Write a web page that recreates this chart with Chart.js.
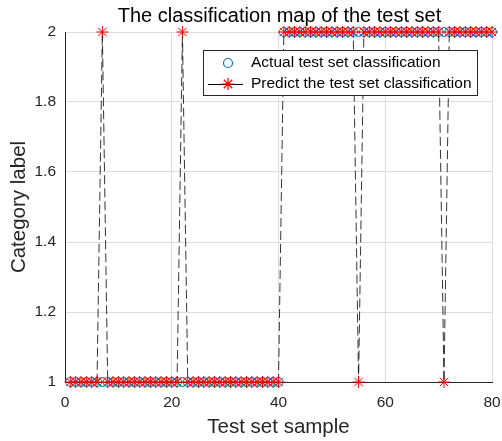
<!DOCTYPE html>
<html>
<head>
<meta charset="utf-8">
<script src="https://cdn.jsdelivr.net/npm/chart.js@4.4.1/dist/chart.umd.min.js"></script>
<style>
  html, body { margin: 0; padding: 0; background: #fff; }
  #wrap { width: 502px; height: 441px; position: relative; }
</style>
</head>
<body>
<div id="wrap"><canvas id="cls"></canvas></div>
<script>
// Test set samples 1..80
const samples = [
  1, 2, 3, 4, 5, 6, 7, 8, 9, 10, 11, 12, 13, 14, 15, 16, 17, 18, 19, 20,
  21, 22, 23, 24, 25, 26, 27, 28, 29, 30, 31, 32, 33, 34, 35, 36, 37, 38, 39, 40,
  41, 42, 43, 44, 45, 46, 47, 48, 49, 50, 51, 52, 53, 54, 55, 56, 57, 58, 59, 60,
  61, 62, 63, 64, 65, 66, 67, 68, 69, 70, 71, 72, 73, 74, 75, 76, 77, 78, 79, 80
];
const actualClass = [
  1, 1, 1, 1, 1, 1, 1, 1, 1, 1, 1, 1, 1, 1, 1, 1, 1, 1, 1, 1,
  1, 1, 1, 1, 1, 1, 1, 1, 1, 1, 1, 1, 1, 1, 1, 1, 1, 1, 1, 1,
  2, 2, 2, 2, 2, 2, 2, 2, 2, 2, 2, 2, 2, 2, 2, 2, 2, 2, 2, 2,
  2, 2, 2, 2, 2, 2, 2, 2, 2, 2, 2, 2, 2, 2, 2, 2, 2, 2, 2, 2
];
const predictClass = [
  1, 1, 1, 1, 1, 1, 2, 1, 1, 1, 1, 1, 1, 1, 1, 1, 1, 1, 1, 1,
  1, 2, 1, 1, 1, 1, 1, 1, 1, 1, 1, 1, 1, 1, 1, 1, 1, 1, 1, 1,
  2, 2, 2, 2, 2, 2, 2, 2, 2, 2, 2, 2, 2, 2, 1, 2, 2, 2, 2, 2,
  2, 2, 2, 2, 2, 2, 2, 2, 2, 2, 1, 2, 2, 2, 2, 2, 2, 2, 2, 2
];
const xTicks = [0, 20, 40, 60, 80];
const yTicks = [1, 1.2, 1.4, 1.6, 1.8, 2];

const FONT = '"Liberation Sans", Arial, Helvetica, sans-serif';
const TXT = '#262626';

const toPts = (xs, ys) => xs.map((x, i) => ({ x: x, y: ys[i] }));

// title + legend box drawn on top, MATLAB style
const overlay = {
  id: 'overlay',
  afterDraw(chart) {
    const ctx = chart.ctx;
    const a = chart.chartArea;
    ctx.save();
    ctx.fillStyle = '#000';
    ctx.font = '20px ' + FONT;
    ctx.textAlign = 'center';
    ctx.textBaseline = 'middle';
    ctx.fillText('The classification map of the test set', (a.left + a.right) / 2 + 1, 16);

    // legend
    const bx = 203.5, by = 50.5, bw = 274, bh = 45;
    ctx.fillStyle = '#fff';
    ctx.fillRect(bx, by, bw, bh);
    ctx.strokeStyle = '#262626';
    ctx.lineWidth = 1;
    ctx.strokeRect(bx, by, bw, bh);

    const y1 = 63, y2 = 84, mx = 228;
    ctx.strokeStyle = '#0072BD';
    ctx.lineWidth = 1.2;
    ctx.beginPath();
    ctx.arc(mx, y1, 4.5, 0, Math.PI * 2);
    ctx.stroke();

    ctx.strokeStyle = '#000';
    ctx.lineWidth = 1;
    ctx.beginPath();
    ctx.moveTo(208, y2 + 0.5);
    ctx.lineTo(243, y2 + 0.5);
    ctx.stroke();
    ctx.strokeStyle = '#ff0000';
    ctx.lineWidth = 1.2;
    Chart.helpers.drawPoint(ctx, { pointStyle: 'star', radius: 6, rotation: 0, borderWidth: 1.2 }, mx, y2);

    ctx.fillStyle = '#000';
    ctx.font = '15.5px ' + FONT;
    ctx.textAlign = 'left';
    ctx.fillText('Actual test set classification', 251, y1);
    ctx.fillText('Predict the test set classification', 251, y2);
    ctx.restore();
  }
};

new Chart(document.getElementById('cls'), {
  type: 'scatter',
  data: {
    datasets: [
      {
        label: 'Actual test set classification',
        data: toPts(samples, actualClass),
        showLine: false,
        pointStyle: 'circle',
        pointRadius: 4.5,
        pointBorderWidth: 1,
        pointBorderColor: '#0072BD',
        pointBackgroundColor: 'rgba(0,0,0,0)',
        clip: false,
        order: 2
      },
      {
        label: 'Predict the test set classification',
        data: toPts(samples, predictClass),
        showLine: true,
        borderColor: '#000',
        borderWidth: 0.8,
        borderDash: [9, 4],
        pointStyle: 'star',
        pointRadius: 6,
        pointBorderWidth: 1,
        pointBorderColor: '#ff0000',
        pointBackgroundColor: '#ff0000',
        clip: false,
        order: 1
      }
    ]
  },
  options: {
    responsive: true,
    maintainAspectRatio: false,
    animation: false,
    events: [],
    layout: { padding: { top: 32, right: 10, left: 0, bottom: 0 } },
    plugins: {
      legend: { display: false },
      tooltip: { enabled: false },
      title: { display: false }
    },
    scales: {
      x: {
        type: 'linear',
        min: 0, max: 80,
        afterBuildTicks: s => { s.ticks = xTicks.map(v => ({ value: v })); },
        afterFit: s => { s.height = 59; s.paddingLeft = 0; s.paddingRight = 0; },
        ticks: { color: TXT, font: { family: FONT, size: 15.5 }, padding: 11, maxRotation: 0 },
        grid: { color: '#dcdcdc', lineWidth: 1, tickLength: 0, drawTicks: false },
        border: { color: '#262626', width: 1 },
        title: { display: true, text: 'Test set sample', color: TXT, font: { family: FONT, size: 20.5 }, padding: { top: 0, bottom: 1 } }
      },
      y: {
        type: 'linear',
        min: 1, max: 2,
        afterBuildTicks: s => { s.ticks = yTicks.map(v => ({ value: v })); },
        afterFit: s => { s.width = 65; s.paddingTop = 0; s.paddingBottom = 0; },
        ticks: { color: TXT, font: { family: FONT, size: 15.5 }, padding: 9, callback: v => String(Math.round(v * 10) / 10) },
        grid: { color: '#dcdcdc', lineWidth: 1, tickLength: 0, drawTicks: false },
        border: { color: '#262626', width: 1 },
        title: { display: true, text: 'Category label', color: TXT, font: { family: FONT, size: 20.5 }, padding: { top: 7, bottom: 0 } }
      }
    }
  },
  plugins: [overlay]
});
</script>
</body>
</html>
